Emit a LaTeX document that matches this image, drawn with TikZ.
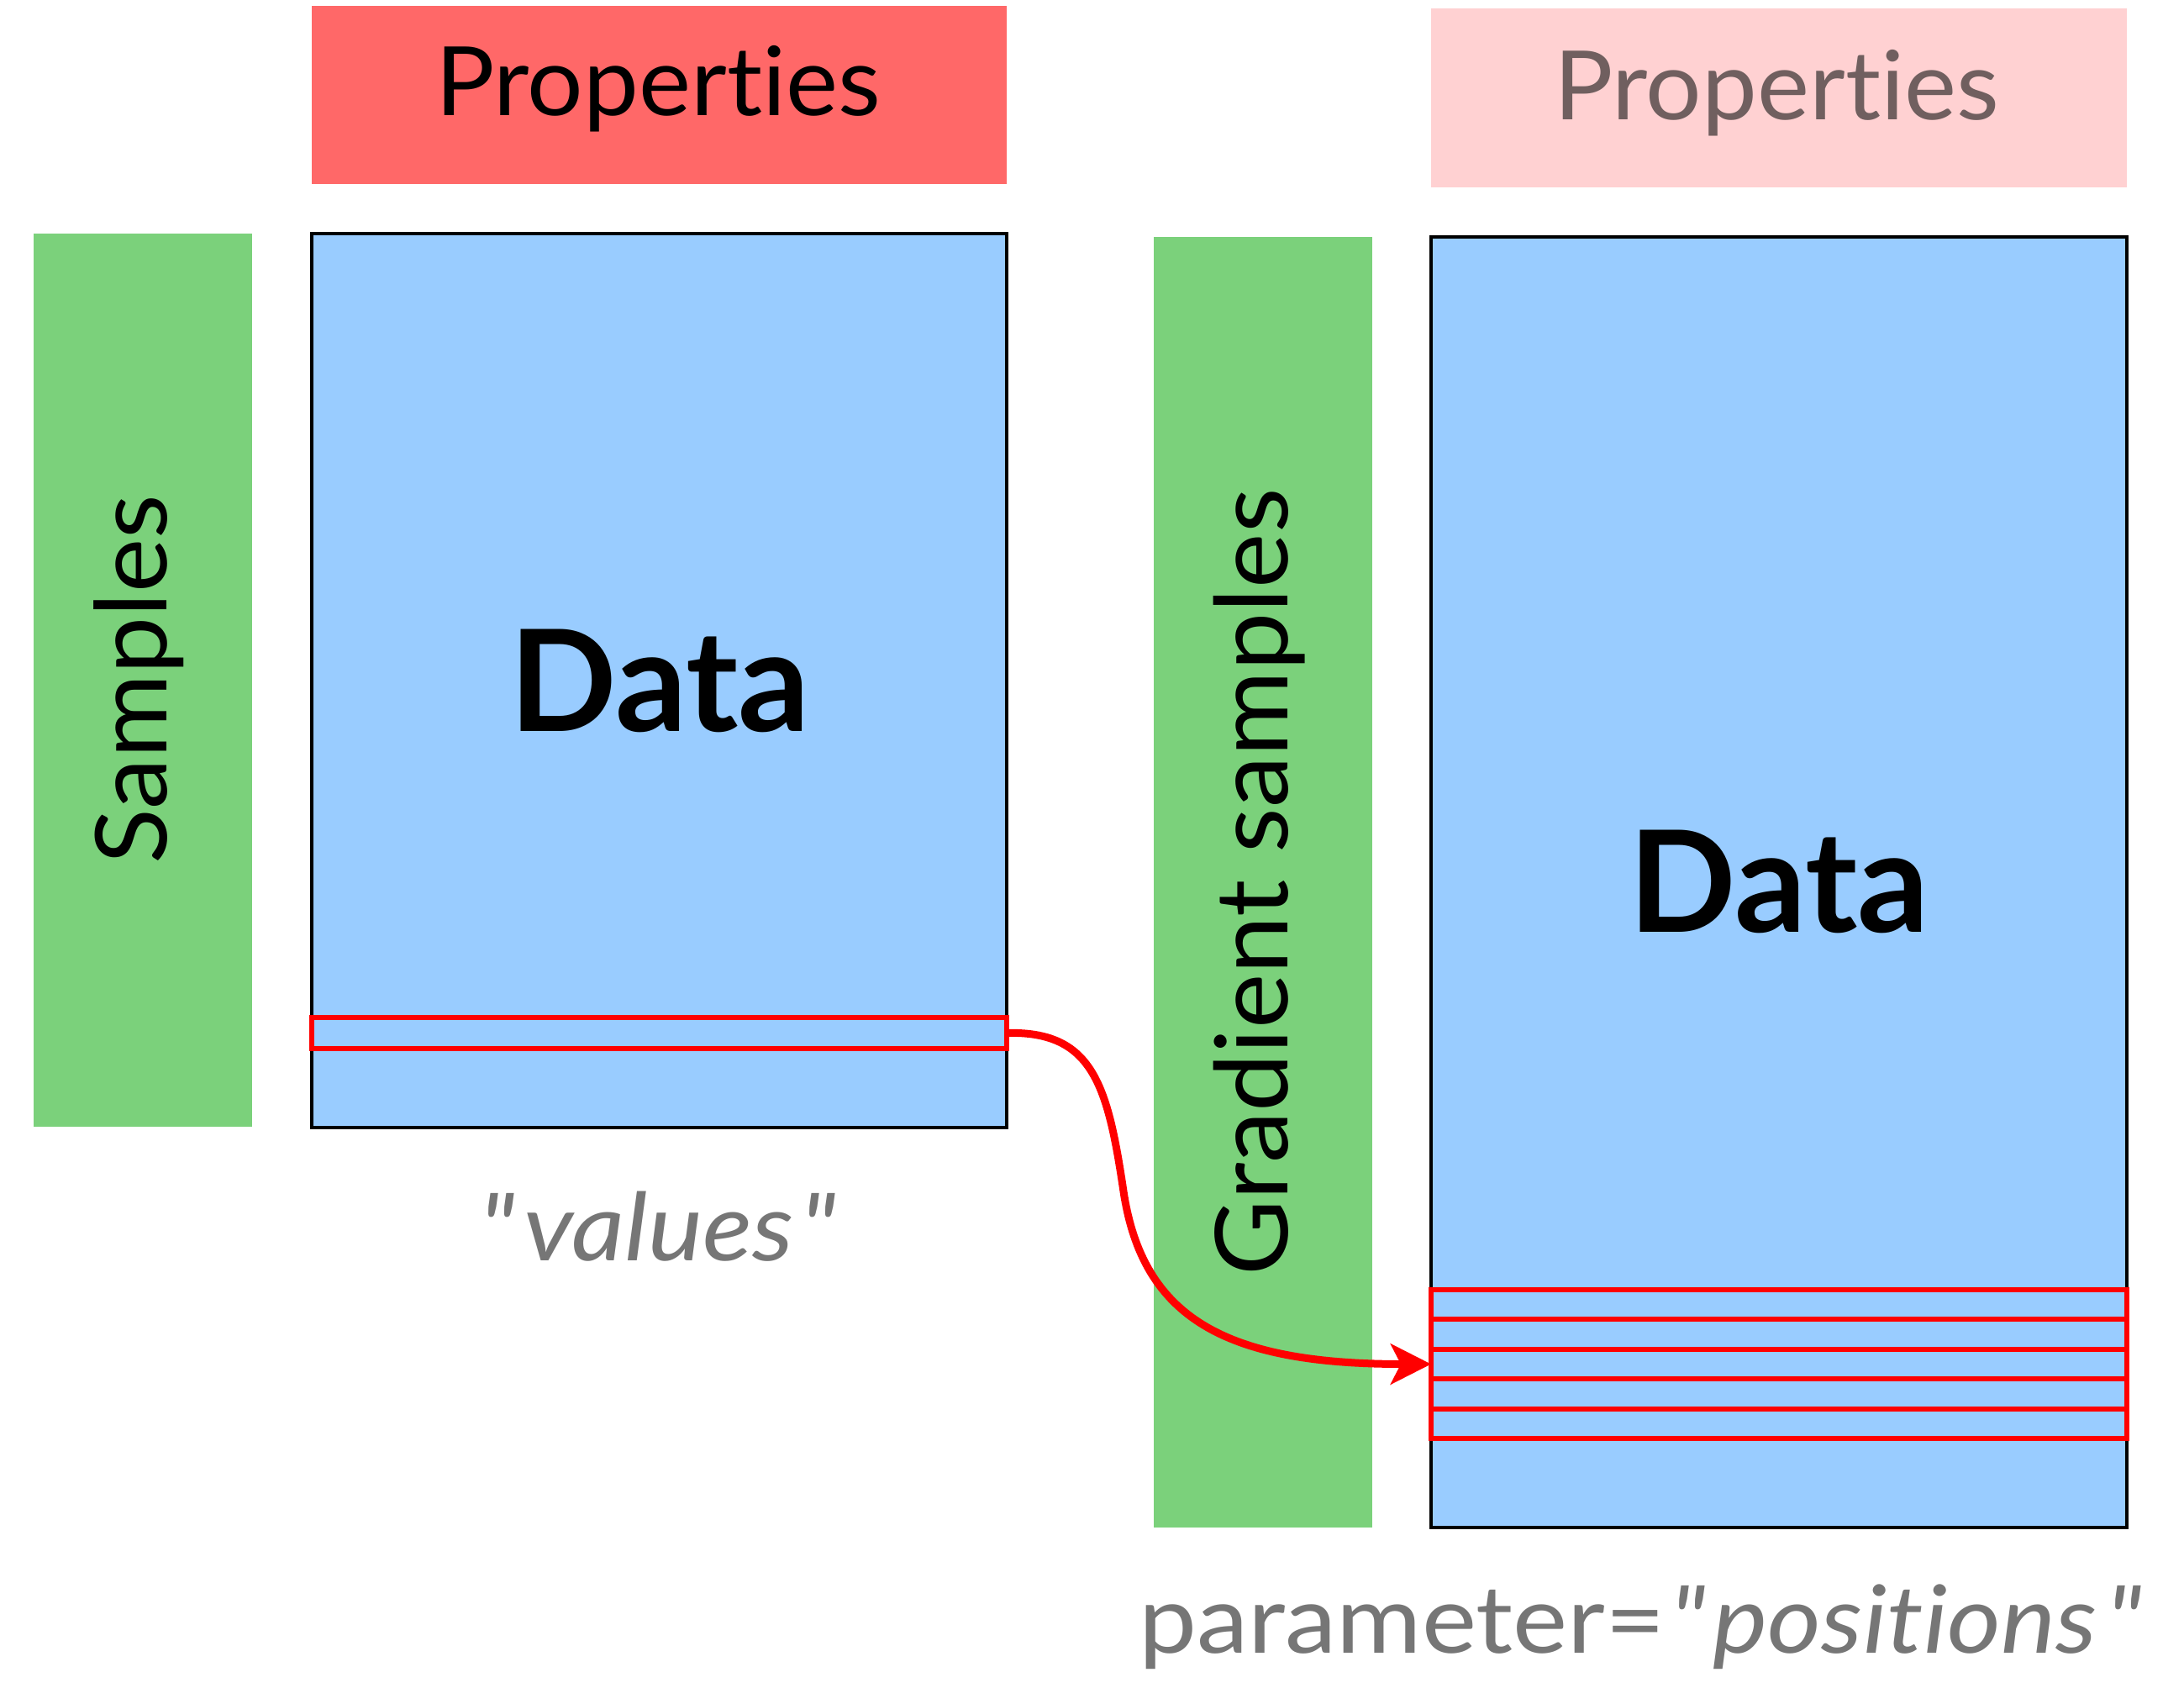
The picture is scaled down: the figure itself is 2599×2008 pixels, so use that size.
\documentclass[tikz,border=0pt]{standalone}
\usepackage{fontspec}
\setmainfont{Lato}[Ligatures={TeXOff,NoCommon}, FakeStretch=1.03]
\newfontfamily\datafont{Lato Bold}[Ligatures={TeXOff,NoCommon}]
\newfontfamily\capfont{Lato}[Ligatures={TeXOff,NoCommon}, FakeStretch=1.1]
\usetikzlibrary{arrows.meta}
\definecolor{propred}{HTML}{FF6868}
\definecolor{proppink}{HTML}{FFD1D2}
\definecolor{sampgreen}{HTML}{7BD17B}
\definecolor{datablue}{HTML}{99CCFF}
\definecolor{labelgray}{HTML}{767676}
\definecolor{pinktext}{HTML}{705F5F}
\definecolor{stripred}{HTML}{FF0000}
\newcommand{\sq}{\symbol{34}}
\tikzset{
  block/.style={inner sep=0pt, outer sep=0pt, anchor=north west},
  databox/.style={block, fill=datablue, draw=black, line width=3.5pt},
  strip/.style={inner sep=0pt, outer sep=0pt, draw=stripred, line width=6pt,
    minimum width=828pt, minimum height=35.4pt},
  lbl/.style={inner sep=0pt, outer sep=0pt, anchor=base},
  link/.style={draw=stripred, line width=9pt,
    -{Stealth[length=48pt, width=48pt, inset=12pt]}}
}
\begin{document}
\begin{tikzpicture}[x=1pt, y=-1pt]
\useasboundingbox (0,0) rectangle (2599,2008);
% header boxes
\node[block, fill=propred, minimum width=827pt, minimum height=212pt] (propL) at (371,7) {};
\node[block, fill=proppink, minimum width=828pt, minimum height=213pt] (propR) at (1703,10) {};
\node[lbl, font=\fontsize{114}{120}\selectfont] (propLt) at (783,137) {Properties};
\node[lbl, font=\fontsize{114}{120}\selectfont, text=pinktext] (propRt) at (2114,142) {Properties};
% green bars
\node[block, fill=sampgreen, minimum width=260pt, minimum height=1063pt] (sampL) at (40,278) {};
\node[block, fill=sampgreen, minimum width=260pt, minimum height=1536pt] (sampR) at (1373,282) {};
\node[lbl, rotate=90, font=\fontsize{118}{124}\selectfont] (sampLt) at (198,809) {Samples};
\node[lbl, rotate=90, font=\fontsize{120}{126}\selectfont] (sampRt) at (1532,1050) {Gradient samples};
% data boxes
\node[databox, minimum width=827pt, minimum height=1064pt] (dataL) at (371,278) {};
\node[databox, minimum width=828pt, minimum height=1536pt] (dataR) at (1703,282) {};
\node[lbl, font=\datafont\fontsize{168}{180}\selectfont] (dataLt) at (785,870) {Data};
\node[lbl, font=\datafont\fontsize{168}{180}\selectfont] (dataRt) at (2117,1109) {Data};
% strips
\node[strip, minimum width=827pt, minimum height=37pt] (sL) at (784.5,1229.5) {};
\node[strip] (sR1) at (2117,1552.7) {};
\node[strip] (sR2) at (2117,1588.1) {};
\node[strip] (sR3) at (2117,1623.5) {};
\node[strip] (sR4) at (2117,1658.9) {};
\node[strip] (sR5) at (2117,1694.3) {};
% captions
\node[lbl, font=\capfont\fontsize{112}{120}\selectfont\itshape, text=labelgray] (valt) at (783,1500) {\sq\kern10pt values\kern8pt\sq};
\node[lbl, font=\capfont\fontsize{112}{120}\selectfont, text=labelgray] (part) at (1952,1967) {parameter=\kern6pt\textit{\sq\kern8pt positions\kern10pt\sq}};
% connector
\draw[link] ([xshift=-2pt]sL.east) .. controls (1300,1226) and (1318,1290) .. (1337,1418)
  .. controls (1360,1570) and (1460,1623.5) .. (sR3.west);
\end{tikzpicture}
\end{document}
